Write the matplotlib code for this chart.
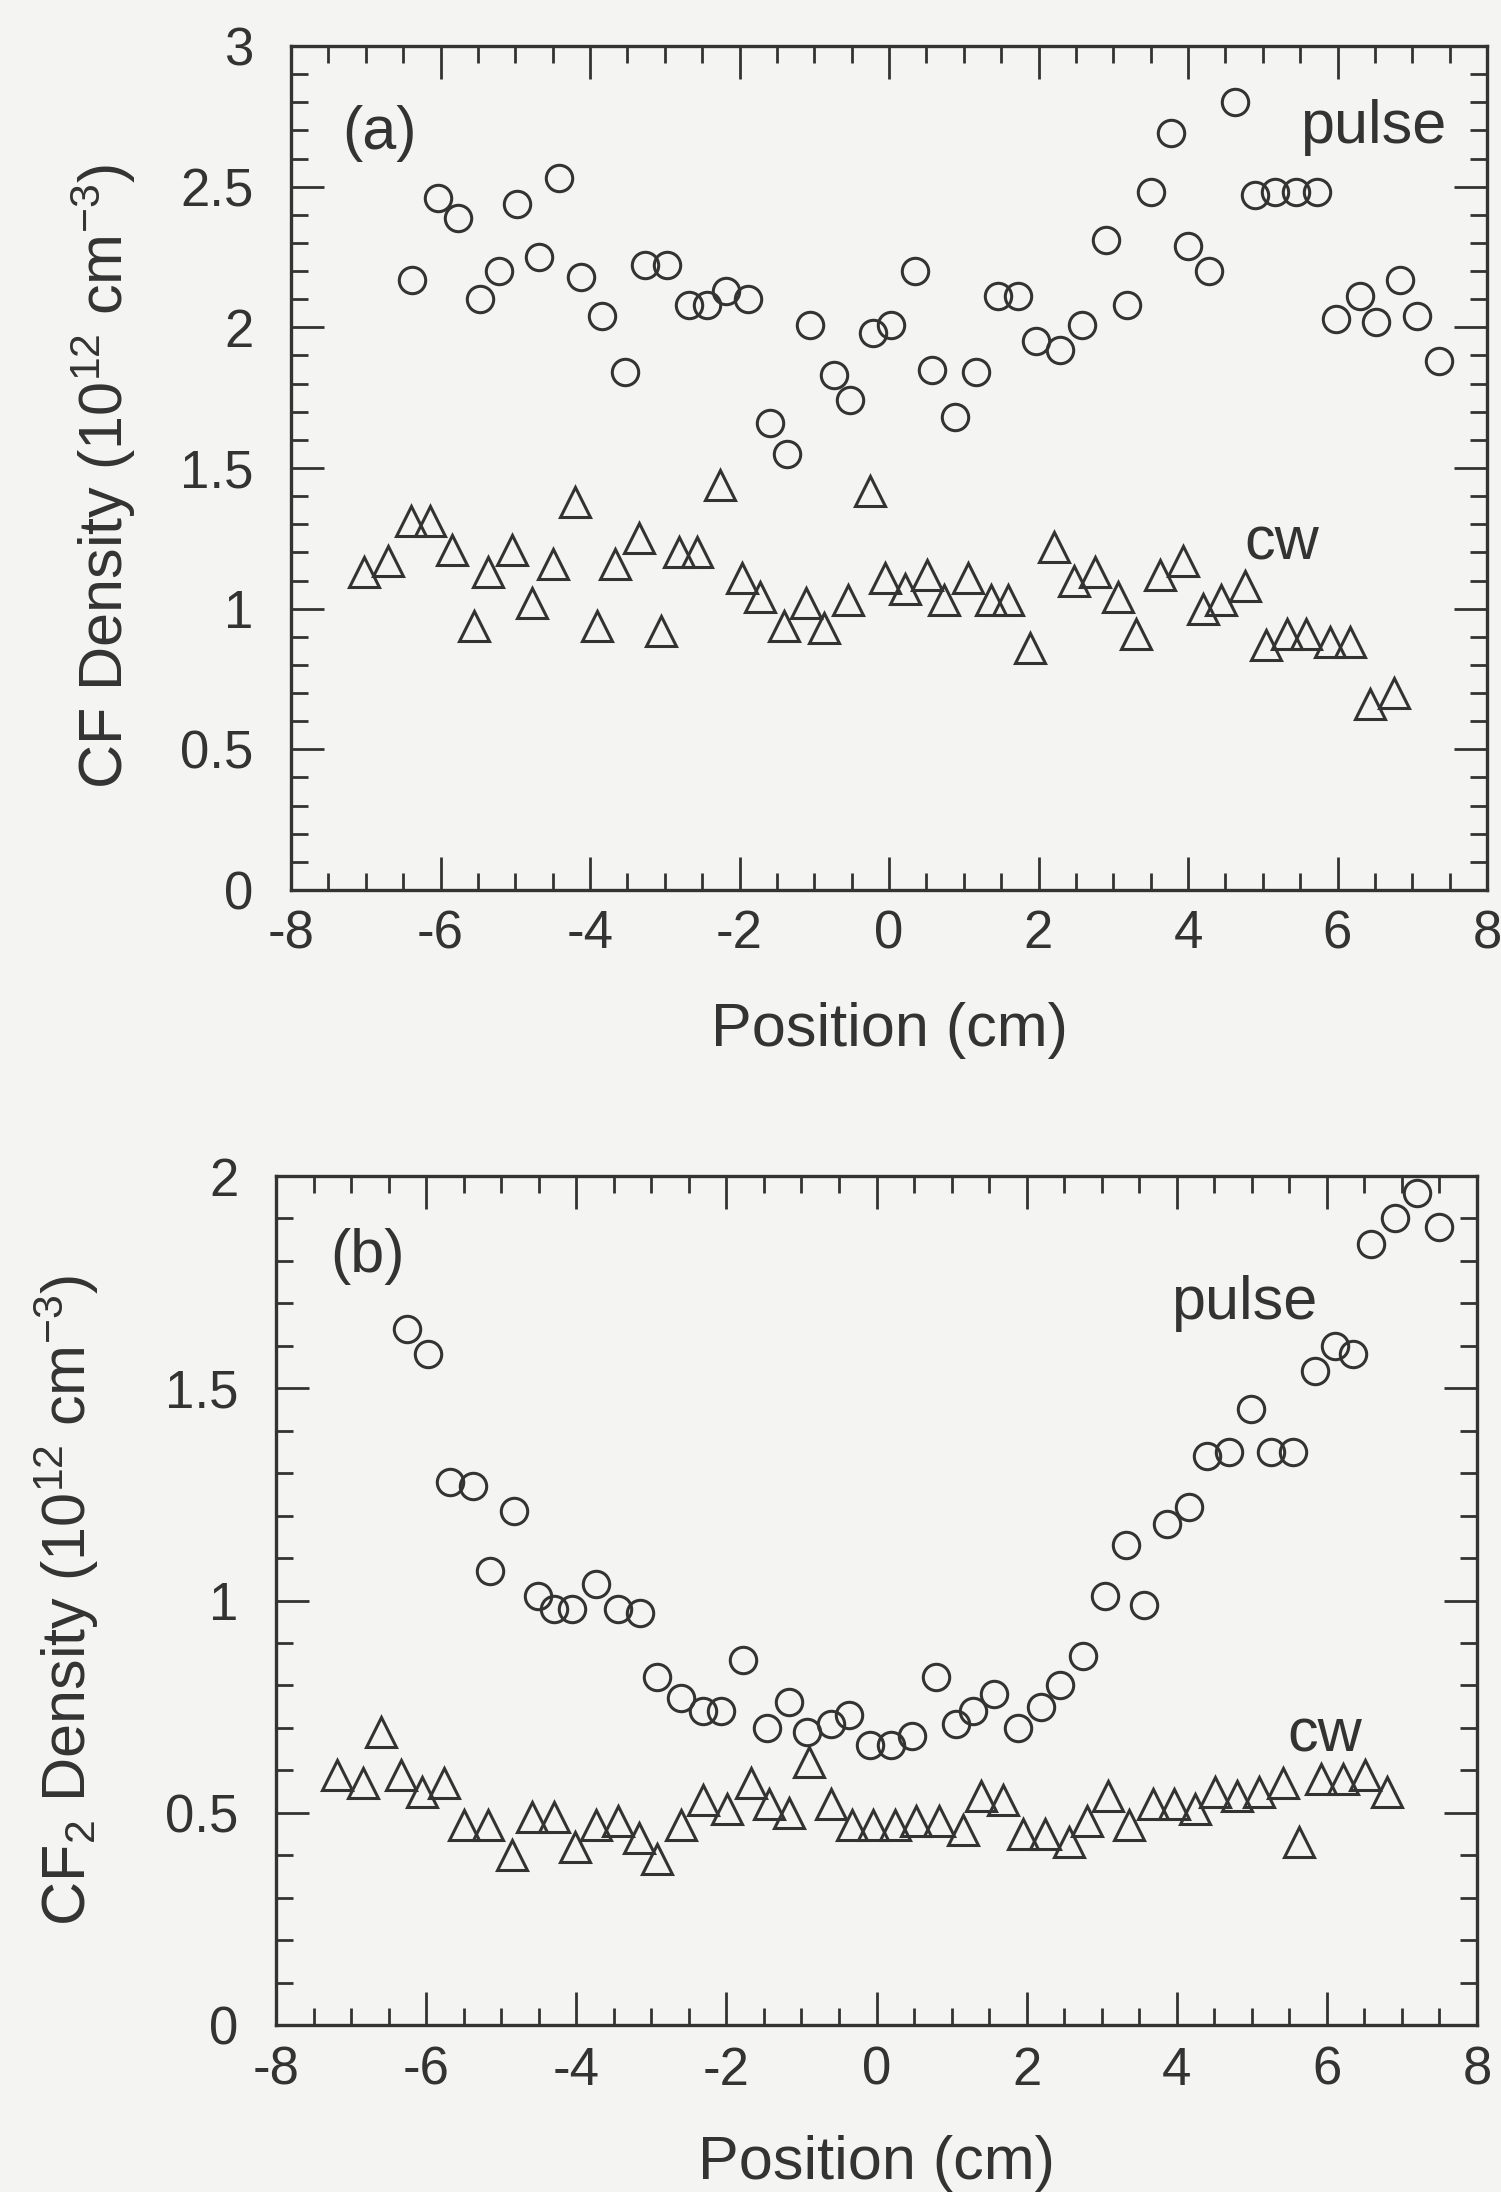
# -*- coding: utf-8 -*-
"""CF and CF2 radial density profiles, pulse vs cw discharge."""
import matplotlib
matplotlib.use("Agg")
import matplotlib.pyplot as plt
from matplotlib.ticker import MultipleLocator, FuncFormatter

# ---- panel (a): CF density (1e12 cm^-3) ----
cf_pulse_x = [-6.38, -6.03, -5.77, -5.47, -5.22, -4.97, -4.68, -4.41, -4.12, -3.84,
              -3.53, -3.27, -2.97, -2.68, -2.43, -2.18, -1.88, -1.59, -1.37, -1.06,
              -0.74, -0.52, -0.21, 0.03, 0.35, 0.58, 0.88, 1.17, 1.46, 1.73,
              1.97, 2.29, 2.58, 2.90, 3.19, 3.51, 3.77, 4.00, 4.28, 4.63,
              4.89, 5.16, 5.44, 5.72, 5.98, 6.30, 6.51, 6.83, 7.07, 7.36]
cf_pulse_y = [2.17, 2.46, 2.39, 2.10, 2.20, 2.44, 2.25, 2.53, 2.18, 2.04,
              1.84, 2.22, 2.22, 2.08, 2.08, 2.13, 2.10, 1.66, 1.55, 2.01,
              1.83, 1.74, 1.98, 2.01, 2.20, 1.85, 1.68, 1.84, 2.11, 2.11,
              1.95, 1.92, 2.01, 2.31, 2.08, 2.48, 2.69, 2.29, 2.20, 2.80,
              2.47, 2.48, 2.48, 2.48, 2.03, 2.11, 2.02, 2.17, 2.04, 1.88]
cf_cw_x = [-7.02, -6.70, -6.40, -6.14, -5.85, -5.55, -5.37, -5.05, -4.78, -4.49,
           -4.20, -3.90, -3.66, -3.35, -3.05, -2.81, -2.57, -2.26, -1.96, -1.72,
           -1.40, -1.11, -0.87, -0.55, -0.26, -0.05, 0.21, 0.51, 0.74, 1.06,
           1.36, 1.59, 1.89, 2.21, 2.47, 2.76, 3.06, 3.30, 3.62, 3.93,
           4.20, 4.44, 4.76, 5.05, 5.32, 5.58, 5.90, 6.17, 6.43, 6.75]
cf_cw_y = [1.13, 1.17, 1.31, 1.31, 1.21, 0.94, 1.13, 1.21, 1.02, 1.16,
           1.38, 0.94, 1.16, 1.25, 0.92, 1.20, 1.20, 1.44, 1.11, 1.04,
           0.94, 1.02, 0.93, 1.03, 1.42, 1.11, 1.07, 1.12, 1.03, 1.11,
           1.03, 1.03, 0.86, 1.22, 1.10, 1.13, 1.04, 0.91, 1.12, 1.17,
           1.00, 1.03, 1.08, 0.87, 0.91, 0.91, 0.88, 0.88, 0.66, 0.70]

# ---- panel (b): CF2 density (1e12 cm^-3) ----
cf2_pulse_x = [-6.26, -5.97, -5.68, -5.37, -5.15, -4.83, -4.51, -4.30, -4.06, -3.74,
               -3.45, -3.15, -2.92, -2.60, -2.31, -2.07, -1.78, -1.46, -1.17, -0.93,
               -0.61, -0.37, -0.08, 0.19, 0.47, 0.79, 1.06, 1.28, 1.57, 1.89,
               2.19, 2.45, 2.75, 3.04, 3.33, 3.57, 3.87, 4.16, 4.40, 4.69,
               4.99, 5.25, 5.55, 5.84, 6.11, 6.35, 6.59, 6.91, 7.20, 7.49]
cf2_pulse_y = [1.64, 1.58, 1.28, 1.27, 1.07, 1.21, 1.01, 0.98, 0.98, 1.04,
               0.98, 0.97, 0.82, 0.77, 0.74, 0.74, 0.86, 0.70, 0.76, 0.69,
               0.71, 0.73, 0.66, 0.66, 0.68, 0.82, 0.71, 0.74, 0.78, 0.70,
               0.75, 0.80, 0.87, 1.01, 1.13, 0.99, 1.18, 1.22, 1.34, 1.35,
               1.45, 1.35, 1.35, 1.54, 1.60, 1.58, 1.84, 1.90, 1.96, 1.88]
cf2_cw_x = [-7.19, -6.84, -6.60, -6.34, -6.05, -5.76, -5.49, -5.17, -4.85, -4.59,
            -4.30, -4.01, -3.74, -3.45, -3.16, -2.92, -2.60, -2.31, -1.99, -1.67,
            -1.43, -1.17, -0.90, -0.61, -0.32, -0.05, 0.24, 0.53, 0.83, 1.15,
            1.39, 1.68, 1.95, 2.24, 2.56, 2.80, 3.09, 3.36, 3.68, 3.97,
            4.24, 4.51, 4.80, 5.09, 5.41, 5.63, 5.92, 6.21, 6.51, 6.80]
cf2_cw_y = [0.59, 0.57, 0.69, 0.59, 0.55, 0.57, 0.47, 0.47, 0.40, 0.49,
            0.49, 0.42, 0.47, 0.48, 0.44, 0.39, 0.47, 0.53, 0.51, 0.57,
            0.52, 0.50, 0.62, 0.52, 0.47, 0.47, 0.47, 0.48, 0.48, 0.46,
            0.54, 0.53, 0.45, 0.45, 0.43, 0.48, 0.54, 0.47, 0.52, 0.52,
            0.51, 0.55, 0.54, 0.55, 0.57, 0.43, 0.58, 0.58, 0.59, 0.55]

INK = "#333333"
PAPER = "#f4f4f2"

plt.rcParams["font.family"] = ["Liberation Sans", "DejaVu Sans"]
plt.rcParams["mathtext.fontset"] = "custom"
plt.rcParams["mathtext.rm"] = "Liberation Sans"
plt.rcParams["mathtext.it"] = "Liberation Sans:italic"
plt.rcParams["mathtext.default"] = "regular"
plt.rcParams["text.color"] = INK
plt.rcParams["axes.labelcolor"] = INK
plt.rcParams["xtick.color"] = INK
plt.rcParams["ytick.color"] = INK


def style_axes(ax, ymax):
    ax.set_facecolor(PAPER)
    ax.set_xlim(-8, 8)
    ax.set_ylim(0, ymax)
    ax.xaxis.set_major_locator(MultipleLocator(2))
    ax.xaxis.set_minor_locator(MultipleLocator(0.5))
    ax.yaxis.set_major_locator(MultipleLocator(0.5))
    ax.yaxis.set_minor_locator(MultipleLocator(0.1))
    fmt = FuncFormatter(lambda v, _: f"{v:g}")
    ax.xaxis.set_major_formatter(fmt)
    ax.yaxis.set_major_formatter(fmt)
    ax.tick_params(which="both", direction="in", top=True, right=True,
                   width=2.0, labelsize=38)
    ax.tick_params(which="major", length=24)
    ax.tick_params(which="minor", length=12)
    for sp in ax.spines.values():
        sp.set_linewidth(2.4)
        sp.set_color(INK)


def draw_series(ax, px, py, cx, cy):
    ax.plot(px, py, ls="none", marker="o", ms=19, mfc="none",
            mec=INK, mew=2.2, clip_on=False)
    ax.plot(cx, cy, ls="none", marker="^", ms=21, mfc="none",
            mec=INK, mew=2.2, clip_on=False)


fig = plt.figure(figsize=(15.01, 21.92), dpi=100, facecolor=PAPER)
W, H = 1501, 2192

# panel (a)
ax1 = fig.add_axes([291 / W, 1 - 890 / H, 1196 / W, 844 / H])
style_axes(ax1, 3)
draw_series(ax1, cf_pulse_x, cf_pulse_y, cf_cw_x, cf_cw_y)
ax1.tick_params(axis="x", pad=14)
ax1.tick_params(axis="y", pad=27)
ax1.set_xlabel("Position (cm)", fontsize=44)
ax1.xaxis.set_label_coords(0.5, -0.133)
ax1.set_ylabel(r"CF Density (10$^{12}$ cm$^{-3}$)", fontsize=44)
ax1.yaxis.set_label_coords(-0.128, 0.49)
ax1.text(-7.32, 2.69, "(a)", fontsize=44, va="center", ha="left")
ax1.text(5.50, 2.71, "pulse", fontsize=44, va="center", ha="left")
ax1.text(4.75, 1.23, "cw", fontsize=44, va="center", ha="left")

# panel (b)
ax2 = fig.add_axes([276 / W, 1 - 2025 / H, 1201 / W, 849 / H])
style_axes(ax2, 2)
draw_series(ax2, cf2_pulse_x, cf2_pulse_y, cf2_cw_x, cf2_cw_y)
ax2.tick_params(axis="x", pad=15)
ax2.tick_params(axis="y", pad=27)
ax2.set_xlabel("Position (cm)", fontsize=44)
ax2.xaxis.set_label_coords(0.5, -0.130)
ax2.set_ylabel(r"CF$_2$ Density (10$^{12}$ cm$^{-3}$)", fontsize=44)
ax2.yaxis.set_label_coords(-0.146, 0.5)
ax2.text(-7.28, 1.81, "(b)", fontsize=44, va="center", ha="left")
ax2.text(3.92, 1.70, "pulse", fontsize=44, va="center", ha="left")
ax2.text(5.47, 0.68, "cw", fontsize=44, va="center", ha="left")

fig.savefig("out.png", dpi=100, facecolor=PAPER)
